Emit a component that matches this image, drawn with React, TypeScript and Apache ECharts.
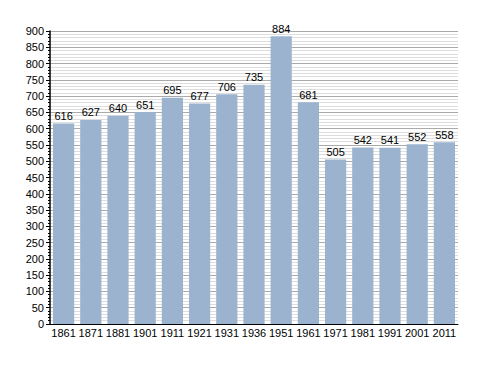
import React, { useEffect, useRef } from "react";
import * as echarts from "echarts";

const years = ["1861", "1871", "1881", "1901", "1911", "1921", "1931", "1936", "1951", "1961", "1971", "1981", "1991", "2001", "2011"];
const population = [616, 627, 640, 651, 695, 677, 706, 735, 884, 681, 505, 542, 541, 552, 558];

export default function App() {
  const ref = useRef<HTMLDivElement>(null);
  useEffect(() => {
    const chart = echarts.init(ref.current!, undefined, { renderer: "svg" });
    chart.setOption({
      animation: false,
      grid: { left: 50, top: 31, right: 30, bottom: 49 },
      xAxis: {
        type: "category",
        data: years,
        axisLine: { lineStyle: { color: "#000", width: 1 } },
        axisTick: { show: false },
        axisLabel: { color: "#000", fontSize: 11, fontFamily: "Liberation Sans", margin: 3, interval: 0 },
      },
      yAxis: {
        type: "value",
        min: 0,
        max: 900,
        interval: 50,
        axisLine: { show: true, lineStyle: { color: "#000", width: 1.5 } },
        axisTick: { show: true, length: 4, lineStyle: { color: "#000" } },
        minorTick: { show: true, splitNumber: 5, length: 2, lineStyle: { color: "#000" } },
        axisLabel: { color: "#000", fontSize: 11, fontFamily: "Liberation Sans", margin: 6 },
        splitLine: { show: true, lineStyle: { color: "#aaaaaa", width: 1 } },
        minorSplitLine: { show: true, lineStyle: { color: "#dddddd", width: 1 } },
      },
      series: [
        {
          type: "bar",
          data: population,
          barCategoryGap: "22%",
          itemStyle: { color: "#9bb3cf" },
          label: {
            show: true,
            position: "top",
            distance: 2,
            color: "#000",
            fontSize: 11,
            fontFamily: "Liberation Sans",
          },
        },
      ],
    });
    return () => chart.dispose();
  }, []);
  return <div ref={ref} style={{ width: 488, height: 373, position: "absolute", left: 0, top: 0, background: "#fff" }} />;
}
